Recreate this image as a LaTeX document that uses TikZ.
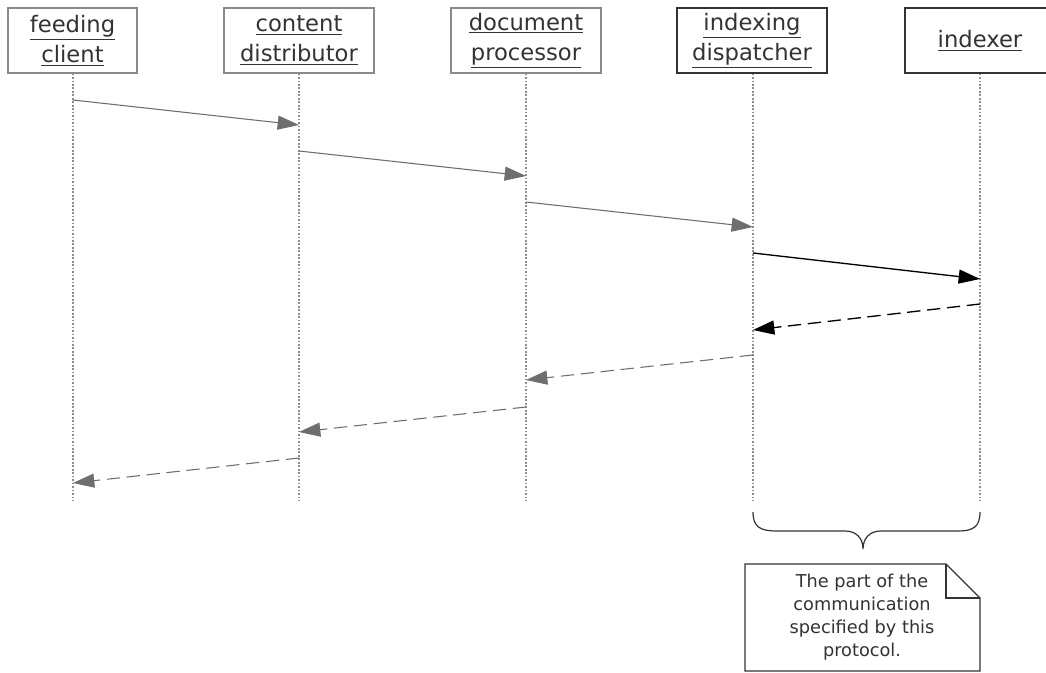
\documentclass[tikz,border=0pt]{standalone}
\usepackage{fontspec}
\setmainfont{DejaVu Sans}
\usetikzlibrary{arrows.meta}
\definecolor{txt}{HTML}{333333}
\definecolor{lightline}{HTML}{8A8A8A}
\definecolor{darkline}{HTML}{333333}
\definecolor{msggray}{HTML}{6E6E6E}
\definecolor{lifegray}{HTML}{8C8C8C}
\tikzset{
  actor/.style={draw=lightline, line width=0.9pt, fill=white, inner sep=0pt,
    minimum width=112.5pt, minimum height=48.75pt, align=center, text=txt,
    font=\fontsize{17}{22.5}\selectfont},
  actordark/.style={actor, draw=darkline},
  lifeline/.style={lifegray, line width=1pt, dash pattern=on 1.3pt off 1.3pt},
  msg/.style={msggray, line width=0.8pt, -{Triangle[length=16pt,width=10.5pt]}},
  msgdark/.style={black, line width=1pt, -{Triangle[length=16pt,width=10.5pt]}},
  ret/.style={msg, dash pattern=on 10pt off 5pt},
  retdark/.style={msgdark, dash pattern=on 10pt off 5pt},
  note/.style={text=txt, align=center, font=\fontsize{13.3}{17.2}\selectfont, inner sep=0pt}
}
\begin{document}
\begin{tikzpicture}[x=0.75pt,y=-0.75pt]
\useasboundingbox (0,0) rectangle (1046,673);
\fill[white] (0,0) rectangle (1046,673);
% actors
\node[actor, minimum width=96.75pt] (fc) at (72.5,40.5) {\underline{feeding}\\\underline{client}};
\node[actor] (cd) at (299,40.5) {\underline{content}\\\underline{distributor}};
\node[actor] (dp) at (526,40.5) {\underline{document}\\\underline{processor}};
\node[actordark] (id) at (752,40.5) {\underline{indexing}\\\underline{dispatcher}};
\node[actordark] (ix) at (980,40.5) {\underline{indexer}};
% lifeline ends
\coordinate (fcE) at (73,501);
\coordinate (cdE) at (299,501);
\coordinate (dpE) at (526,501);
\coordinate (idE) at (753,501);
\coordinate (ixE) at (980,501);
\draw[lifeline] (fc.south -| fcE) -- (fcE);
\draw[lifeline] (cd.south -| cdE) -- (cdE);
\draw[lifeline] (dp.south -| dpE) -- (dpE);
\draw[lifeline] (id.south -| idE) -- (idE);
\draw[lifeline] (ix.south -| ixE) -- (ixE);
% message points
\coordinate (m1a) at (73,100);  \coordinate (m1b) at (299,125);
\coordinate (m2a) at (299,151); \coordinate (m2b) at (526,176);
\coordinate (m3a) at (526,202); \coordinate (m3b) at (753,227);
\coordinate (m4a) at (753,253); \coordinate (m4b) at (980,279);
\coordinate (m5a) at (980,304); \coordinate (m5b) at (753,330);
\coordinate (m6a) at (753,355); \coordinate (m6b) at (526,380);
\coordinate (m7a) at (526,407); \coordinate (m7b) at (299,432);
\coordinate (m8a) at (299,458); \coordinate (m8b) at (73,483);
\draw[msg] (m1a) -- (m1b);
\draw[msg] (m2a) -- (m2b);
\draw[msg] (m3a) -- (m3b);
\draw[msgdark] (m4a) -- (m4b);
\draw[retdark] (m5a) -- (m5b);
\draw[ret] (m6a) -- (m6b);
\draw[ret] (m7a) -- (m7b);
\draw[ret] (m8a) -- (m8b);
% brace
\coordinate (brL) at (753,512);
\coordinate (brR) at (980,512);
\coordinate (brT) at (863,549);
\draw[darkline, line width=0.9pt] (brL) .. controls (753,527) and (760,531) .. (777,531)
  -- (845,531) .. controls (856,531) and (863,538) .. (brT)
  .. controls (863,538) and (870,531) .. (881,531)
  -- (958,531) .. controls (973,531) and (980,527) .. (brR);
% note
\draw[darkline, line width=0.9pt, fill=white] (745,564) -- (946,564) -- (980,598) -- (980,671) -- (745,671) -- cycle;
\draw[darkline, line width=0.9pt] (946,564) -- (946,598) -- (980,598);
\node[note] (nt) at (862,617.5) {The part of the\\communication\\specified by this\\protocol.};
\end{tikzpicture}
\end{document}
